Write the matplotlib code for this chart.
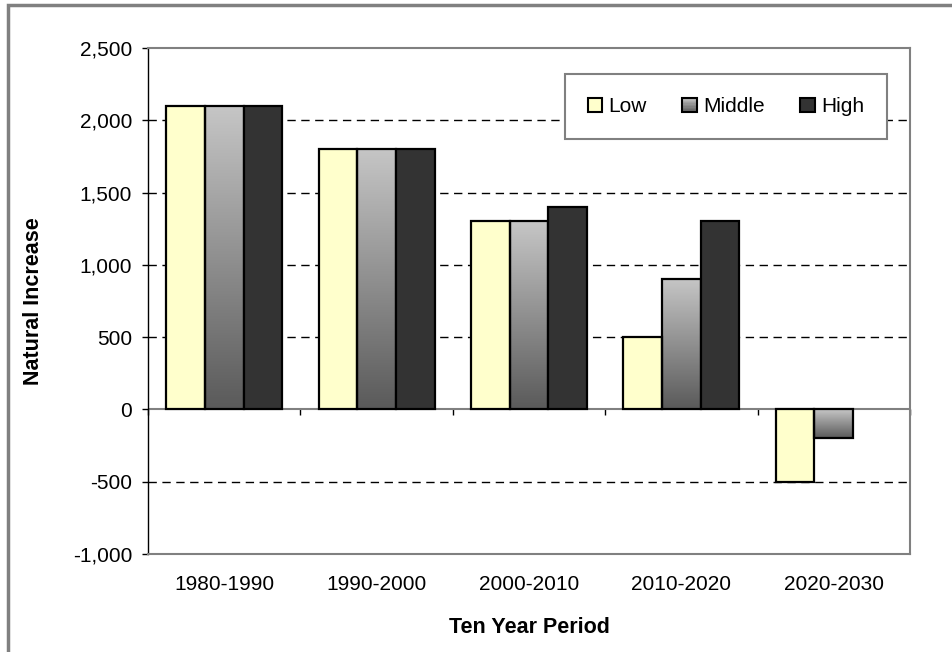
import numpy as np
import matplotlib
matplotlib.use("Agg")
import matplotlib.pyplot as plt
from matplotlib.patches import Rectangle
from matplotlib.legend_handler import HandlerBase
from matplotlib.colors import LinearSegmentedColormap
from matplotlib.ticker import FuncFormatter, MultipleLocator

plt.rcParams['font.family'] = ['Liberation Sans', 'DejaVu Sans']

# Data
periods = ['1980-1990', '1990-2000', '2000-2010', '2010-2020', '2020-2030']
low = [2100, 1800, 1300, 500, -500]
middle = [2100, 1800, 1300, 900, -200]
high = [2100, 1800, 1400, 1300, np.nan]
series_names = ['Low', 'Middle', 'High']

low_color = '#FFFFCC'
high_color = '#333333'
mid_cmap = LinearSegmentedColormap.from_list('mid', ['#5a5a5a', '#c6c6c6'])
FS = 15
LFS = 15.5


# legend handle for the gradient series
class GradientHandler(HandlerBase):
    def create_artists(self, legend, orig_handle, xdescent, ydescent,
                       width, height, fontsize, trans):
        arts = []
        n = 10
        for i in range(n):
            r = Rectangle((-xdescent, -ydescent + i * height / n), width, height / n,
                          facecolor=mid_cmap((i + 0.5) / n), edgecolor='none',
                          transform=trans)
            arts.append(r)
        arts.append(Rectangle((-xdescent, -ydescent), width, height, facecolor='none',
                              edgecolor='black', lw=1.5, transform=trans))
        return arts


fig = plt.figure(figsize=(9.53, 6.52), dpi=100)
ax = fig.add_axes([148 / 953, 1 - 554 / 652, (910 - 148) / 953, (554 - 48) / 652])

x = np.arange(len(periods))
w = 0.254

bars_low = ax.bar(x - w, low, w, color=low_color, edgecolor='black', lw=1.6, zorder=3)
bars_mid = ax.bar(x, middle, w, facecolor='none', edgecolor='black', lw=1.6, zorder=3)
bars_high = ax.bar(x + w, high, w, color=high_color, edgecolor='black', lw=1.6, zorder=3)

# gradient fill for middle bars
grad = np.linspace(0, 1, 256).reshape(-1, 1)
for b, v in zip(bars_mid, middle):
    x0 = b.get_x()
    y0, y1 = min(0, v), max(0, v)
    im = ax.imshow(grad, cmap=mid_cmap, origin='lower', aspect='auto',
                   extent=[x0, x0 + b.get_width(), y0, y1], zorder=2.5)
    im.set_clip_path(b)

ax.set_xlim(-0.5, len(periods) - 0.5)
ax.set_ylim(-1000, 2500)

# gridlines
for yv in [-500, 500, 1000, 1500, 2000]:
    ax.axhline(yv, color='black', lw=1, ls=(0, (6, 4)), zorder=1)
ax.axhline(0, color='#808080', lw=1.5, zorder=2)

ax.yaxis.set_major_locator(MultipleLocator(500))
ax.yaxis.set_major_formatter(FuncFormatter(lambda v, p: f'{v:,.0f}'))
ax.tick_params(axis='y', direction='out', length=4.5, width=1, color='black',
               labelsize=FS, pad=7)

ax.set_xticks(x)
ax.set_xticklabels(periods)
ax.tick_params(axis='x', length=0, labelsize=FS, pad=15)

for s in ['top', 'right', 'bottom']:
    ax.spines[s].set_color('#808080')
    ax.spines[s].set_linewidth(1.5)
ax.spines['left'].set_color('black')
ax.spines['left'].set_linewidth(1)

# tick marks on the zero axis between categories
sec = ax.secondary_xaxis(1000 / 3500)
sec.set_xticks(np.arange(len(periods) + 1) - 0.5)
sec.set_xticklabels([])
sec.tick_params(direction='out', length=4, width=1, color='black')
sec.spines['bottom'].set_visible(False)
sec.spines['top'].set_visible(False)

ax.set_xlabel('Ten Year Period', fontsize=LFS, fontweight='bold')
ax.xaxis.set_label_coords(0.5, -0.125)
ax.set_ylabel('Natural Increase', fontsize=LFS, fontweight='bold')
ax.yaxis.set_label_coords(-0.137, 0.5)

# legend
h_low = Rectangle((0, 0), 1, 1, facecolor=low_color, edgecolor='black', lw=1.5)
h_mid = Rectangle((0, 0), 1, 1)
h_high = Rectangle((0, 0), 1, 1, facecolor=high_color, edgecolor='black', lw=1.5)
leg = ax.legend([h_low, h_mid, h_high], series_names, handler_map={h_mid: GradientHandler()},
                loc='center', bbox_to_anchor=(0.7585, 0.884), ncol=3, fontsize=FS,
                handlelength=0.7, handleheight=0.7, handletextpad=0.3, columnspacing=1.7,
                borderpad=1.1, fancybox=False, framealpha=1, edgecolor='#808080')
leg.get_frame().set_linewidth(1.5)
leg.set_zorder(5)

# outer chart border
fig.add_artist(Rectangle((8 / 953, -0.1), 1.2, 1.1 - 5 / 652, transform=fig.transFigure,
                         fill=False, edgecolor='#808080', lw=2.5))

fig.savefig('out.png', dpi=100)
